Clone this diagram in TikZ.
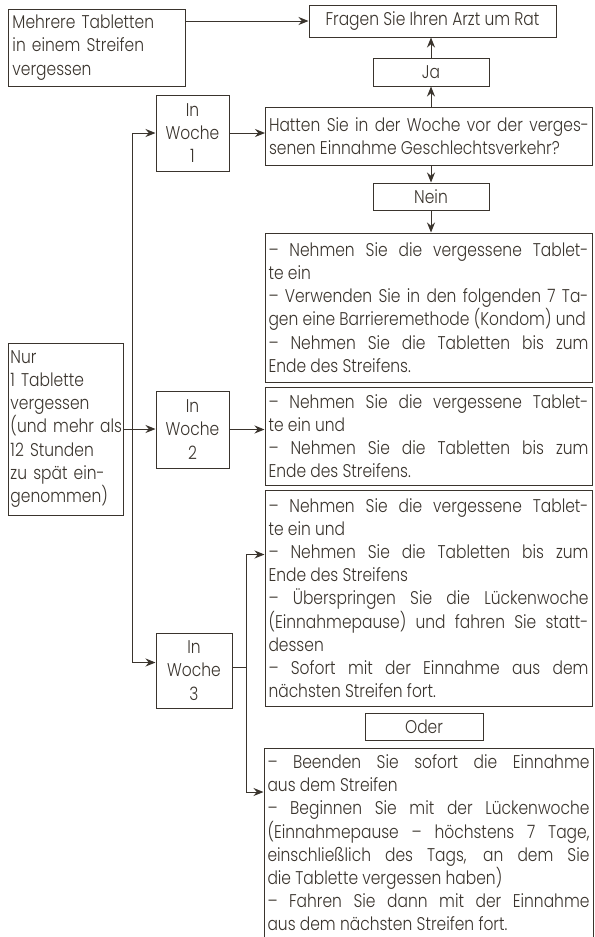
\documentclass[tikz,border=0pt]{standalone}
\usepackage{fontspec}
\setmainfont{Poppins}[UprightFont={* Light},FakeStretch=0.84]
\usepackage{xcolor}
\usepackage{tikz}
\usetikzlibrary{arrows.meta}
\definecolor{ink}{RGB}{58,52,45}
\setlength{\parindent}{0pt}
\hyphenpenalty=10000
\tolerance=10000

\begin{document}
\begin{tikzpicture}
  [x=1bp,y=-1bp,
   frame/.style={draw=ink,line width=1bp,text=ink,inner xsep=3.5bp,inner ysep=2bp,
     font=\fontsize{18.5}{23.3}\selectfont},
   lbox/.style={frame,align=left},
   cbox/.style={frame,align=center},
   jbox/.style={frame,align=justify,text width=320bp},
   arr/.style={draw=ink,line width=1bp,-{Stealth[length=10bp,width=8bp]}}] % boxes are placed by their centres, in pixels of the page

  \useasboundingbox (0,0) rectangle (595,937);

  \node[lbox,text width=169bp,minimum height=77bp] (many) at (97,47.5)
    {Mehrere Tabletten\\in einem Streifen\\vergessen};
  \node[cbox,minimum width=247bp,minimum height=32bp] (doctor) at (432.5,21)
    {Fragen Sie Ihren Arzt um Rat};
  \node[cbox,minimum width=116bp,minimum height=28bp] (yes) at (431,72) {Ja};
  \node[jbox,minimum height=58bp] (sex) at (429,136)
    {Hatten Sie in der Woche vor der verges-\linebreak senen Einnahme Geschlechtsverkehr?};
  \node[cbox,minimum width=116bp,minimum height=27bp] (no) at (431,196.5) {Nein};

  \node[lbox,text width=111bp,inner xsep=1.5bp,minimum height=172bp] (one) at (66,429)
    {Nur\\1 Tablette\\vergessen\\\mbox{(und mehr als}\\12 Stunden\\zu spät ein-\\genommen)};
  \node[cbox,minimum width=73bp,minimum height=76bp] (w1) at (192.5,133) {In\\Woche\\1};
  \node[cbox,minimum width=73bp,minimum height=77bp] (w2) at (192.5,429.5) {In\\Woche\\2};
  \node[cbox,minimum width=76bp,minimum height=75bp] (w3) at (194,670.5) {In\\Woche\\3};

  \node[jbox,minimum height=149bp] (todo1) at (428.5,307.5)
    {-- Nehmen Sie die vergessene Tablet-\linebreak te ein\\
     -- Verwenden Sie in den folgenden 7 Ta-\linebreak \mbox{gen eine Barrieremethode (Kondom) und}\linebreak
     -- Nehmen Sie die Tabletten bis zum\linebreak Ende des Streifens.};
  \node[jbox,minimum height=98bp] (todo2) at (428.5,436)
    {-- Nehmen Sie die vergessene Tablet-\linebreak te ein und\\
     -- Nehmen Sie die Tabletten bis zum\linebreak Ende des Streifens.};
  \node[jbox,minimum height=216bp] (todo3) at (428.5,598)
    {-- Nehmen Sie die vergessene Tablet-\linebreak te ein und\\
     -- Nehmen Sie die Tabletten bis zum\linebreak Ende des Streifens\\
     -- Überspringen Sie die Lückenwoche\linebreak (Einnahmepause) und fahren Sie statt-\linebreak dessen\\
     -- Sofort mit der Einnahme aus dem\linebreak nächsten Streifen fort.};
  \node[cbox,minimum width=118bp,minimum height=27bp] (or) at (424,726.5) {Oder};
  \node[jbox,text width=322bp,anchor=north,inner ysep=6bp] (todo4) at (428.5,748)
    {-- Beenden Sie sofort die Einnahme\linebreak aus dem Streifen\\
     -- Beginnen Sie mit der Lückenwoche\linebreak (Einnahmepause -- höchstens 7 Tage,\linebreak
     einschließlich des Tags, an dem Sie\linebreak die Tablette vergessen haben)\\
     -- Fahren Sie dann mit der Einnahme\linebreak aus dem nächsten Streifen fort.};

  \coordinate (split) at (132,429);
  \coordinate (fork) at (246,667);

  \draw[arr] (many.east |- doctor.west) -- (doctor.west);
  \draw[arr] (yes.south |- sex.north) -- (yes.south);
  \draw[arr] (yes.north) -- (yes.north |- doctor.south);
  \draw[arr] (no.north |- sex.south) -- (no.north);
  \draw[arr] (no.south) -- (no.south |- todo1.north);

  \draw[arr] (one.east) -- (one.east -| w2.west);
  \draw[arr] (split) |- (w1.west);
  \draw[arr] (split) |- ([yshift=8bp]w3.west);
  \draw[arr] (w1.east) -- (w1.east -| sex.west);
  \draw[arr] (w2.east) -- (w2.east -| todo2.west);

  \draw[draw=ink,line width=1bp] (w3.east |- fork) -- (fork);
  \draw[arr] (fork) |- ([yshift=-65bp]todo3.north west);
  \draw[arr] (fork) |- ([yshift=-44bp]todo4.north west);

\end{tikzpicture}
\end{document}
